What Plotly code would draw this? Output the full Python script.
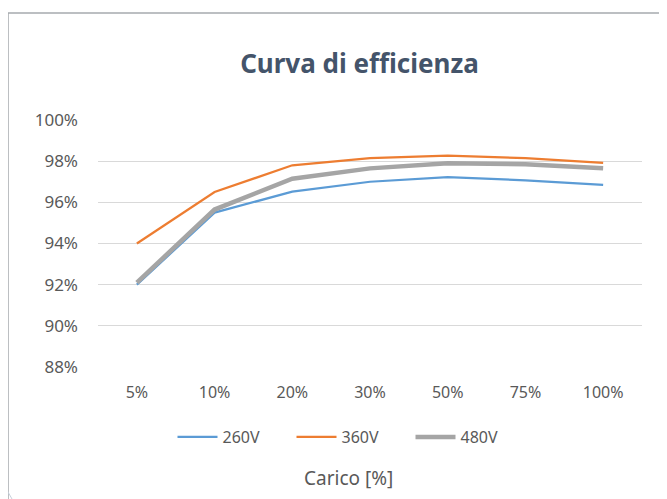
import plotly.graph_objects as go

categories = ["5%", "10%", "20%", "30%", "50%", "75%", "100%"]
v260 = [92.0, 95.5, 96.52, 97.0, 97.22, 97.07, 96.85]
v360 = [94.0, 96.5, 97.8, 98.15, 98.27, 98.15, 97.92]
v480 = [92.1, 95.65, 97.15, 97.65, 97.9, 97.85, 97.65]
series_names = ["260V", "360V", "480V"]
y_ticks = [88, 90, 92, 94, 96, 98, 100]

W, H = 667, 499
OFF = 8  # page body margin offset
# plot area in screenshot coordinates: x 98..642, y 120..367
L, T = 98 - OFF, 120 - OFF
R = W - (642 - OFF)
B = H - (367 - OFF)
pw, ph = W - L - R, H - T - B

def px_x(x):
    return (x - OFF - L) / pw

def px_y(y):
    return (H - B - (y - OFF)) / ph

fig = go.Figure()
colors = ["#5B9BD5", "#ED7D31", "#A5A5A5"]
widths = [2.25, 2.25, 4.5]
for name, vals, c, w in zip(series_names, [v260, v360, v480], colors, widths):
    fig.add_trace(go.Scatter(x=categories, y=vals, mode="lines", name=name,
                             line=dict(color=c, width=w)))

font_fam = "Noto Sans, Open Sans, sans-serif"
fig.update_layout(
    width=W, height=H,
    margin=dict(l=L, r=R, t=T, b=B),
    paper_bgcolor="white", plot_bgcolor="white",
    font=dict(family=font_fam, color="#595959", size=16),
    title=dict(text="<b>Curva di efficienza</b>", x=(359.5 - OFF) / W, xanchor="center",
               y=1 - (64 - OFF) / H, yanchor="middle", yref="container",
               font=dict(size=26, color="#44546A", family=font_fam)),
    showlegend=True,
    legend=dict(orientation="h", x=px_x(351), xanchor="center", y=px_y(437), yanchor="middle",
                font=dict(size=16, color="#595959"), itemwidth=40,
                entrywidth=64, entrywidthmode="pixels", bgcolor="rgba(0,0,0,0)"),
    xaxis=dict(type="category", range=[-0.5, 6.5], showgrid=False, showline=False,
               ticks="", zeroline=False, ticklabelstandoff=14, tickfont=dict(size=16)),
    yaxis=dict(range=[88, 100], tickvals=y_ticks, ticktext=[f"{v}%" for v in y_ticks],
               showgrid=True, gridcolor="#D9D9D9", gridwidth=1, zeroline=False,
               showline=False, ticks="", ticklabelstandoff=19, tickfont=dict(size=17)),
)

fig.add_annotation(text="Carico [%]", xref="paper", yref="paper", x=px_x(348), y=px_y(478),
                   showarrow=False, font=dict(size=19, color="#595959"), xanchor="center", yanchor="middle")

# chart border
fig.add_shape(type="rect", xref="paper", yref="paper", x0=px_x(8), x1=px_x(720), y0=px_y(540), y1=px_y(13),
              line=dict(color="#A6AAAE", width=1.5), fillcolor="rgba(0,0,0,0)", layer="below")
# faint artifact line bottom-left
fig.add_shape(type="line", xref="paper", yref="paper", x0=px_x(0), y0=px_y(478), x1=px_x(12), y1=px_y(499),
              line=dict(color="#C8D0DC", width=1))

fig.write_html("out.html")
